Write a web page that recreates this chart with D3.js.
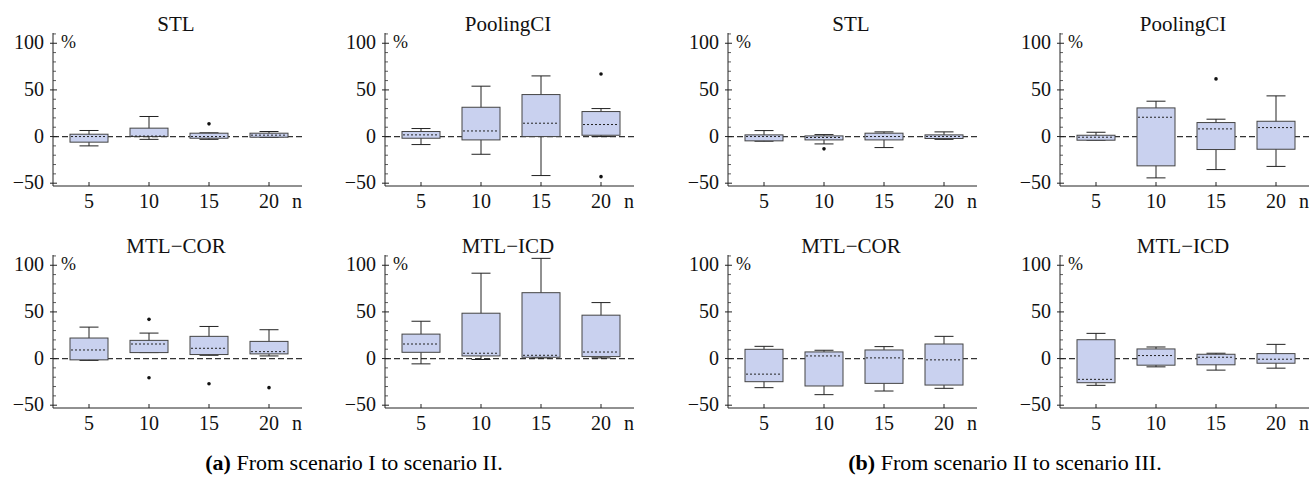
<!DOCTYPE html>
<html>
<head>
<meta charset="utf-8">
<script src="https://cdn.jsdelivr.net/npm/d3@7"></script>
<style>
  body { margin: 0; background: #fff; }
</style>
</head>
<body>
<svg id="chart" width="1311" height="480" font-family="'Liberation Serif', 'DejaVu Serif', serif"></svg>
<script>
// categories (n) and y ticks
var nValues = [5, 10, 15, 20];
var yMajor = [-50, 0, 50, 100];

// each entry: [lower whisker, q1, median, q3, upper whisker]
var stlA = [[-10, -6, 0, 2.5, 6.5], [-3, 0, 0.5, 9, 21.5], [-3, -1.8, 0, 3.6, 4], [-1, -0.7, 1.5, 3.6, 5.4]];
var stlAOut = [[], [], [13.6], []];
var poolA = [[-8.6, -1.8, 1.8, 5.4, 8.6], [-19, -3.6, 6, 31.4, 54], [-41.8, 0, 14.3, 45, 65], [0, 1.4, 12.9, 26.8, 30]];
var poolAOut = [[], [], [], [67, -43]];
var corA = [[-2, -1.4, 9.2, 22, 33.7], [6.4, 6.4, 15.6, 19.5, 27.3], [3.5, 4.3, 11, 23.8, 34.4], [2.8, 5, 7.4, 18.4, 30.9]];
var corAOut = [[], [42, -20.6], [-27], [-31.2]];
var icdA = [[-5.7, 6.7, 15.6, 26.2, 40], [-1, 2.8, 5.7, 48.6, 91.5], [0.7, 1.4, 3.5, 70.6, 107.4], [0.7, 2.1, 7, 46.5, 60]];
var icdAOut = [[], [], [], []];

var stlB = [[-5, -4.6, 0, 1.8, 6.4], [-7.9, -3.6, -1, 0.7, 2.1], [-11.8, -3.6, 0, 3.6, 5], [-3, -2.1, 0, 1.8, 5]];
var stlBOut = [[], [-13.2], [], []];
var poolB = [[-4, -3.9, -0.7, 1.4, 4.6], [-44.3, -31.4, 20.7, 30.7, 37.9], [-35.4, -13.9, 8.2, 15, 18.6], [-32, -13.6, 9.6, 16.4, 43.6]];
var poolBOut = [[], [], [61.8], []];
var corB = [[-31.2, -24.8, -16.7, 9.9, 13.1], [-38.7, -29.4, 2.8, 7.1, 8.9], [-34.8, -26.6, 0.7, 9.2, 12.8], [-31.9, -28.4, -1.4, 15.6, 23.8]];
var corBOut = [[], [], [], []];
var icdB = [[-28.7, -25.9, -22.3, 20.2, 27], [-8.9, -7.1, 3.2, 10.3, 12.4], [-12.4, -6.7, 1.4, 4.6, 5.7], [-10.3, -5, -0.7, 5.3, 15.2]];
var icdBOut = [[], [], [], []];

var panels = [
  { title: "STL", box: stlA, out: stlAOut, col: 0, row: 0 },
  { title: "PoolingCI", box: poolA, out: poolAOut, col: 1, row: 0 },
  { title: "MTL\u2212COR", box: corA, out: corAOut, col: 0, row: 1 },
  { title: "MTL\u2212ICD", box: icdA, out: icdAOut, col: 1, row: 1 },
  { title: "STL", box: stlB, out: stlBOut, col: 2, row: 0 },
  { title: "PoolingCI", box: poolB, out: poolBOut, col: 3, row: 0 },
  { title: "MTL\u2212COR", box: corB, out: corBOut, col: 2, row: 1 },
  { title: "MTL\u2212ICD", box: icdB, out: icdBOut, col: 3, row: 1 }
];

// layout
var colX = [53, 385, 728, 1060];
var rowTop = [33, 255];
var plotH = 153;
var boxW = 38, capW = 19;

var svg = d3.select("#chart");

function drawPanel(p) {
  var x0 = colX[p.col], top = rowTop[p.row], bottom = top + plotH;
  var xEnd = x0 + 249;
  var y = d3.scaleLinear().domain([-53, 111]).range([bottom, top]);
  var x = d3.scalePoint().domain(nValues).range([x0 + 36, x0 + 216]);
  var g = svg.append("g").attr("fill", "#111");

  // title
  g.append("text").attr("x", x0 + 123).attr("y", top - 2)
    .attr("text-anchor", "middle").attr("font-size", 21).text(p.title);

  // zero line (behind the boxes)
  g.append("line").attr("x1", x0).attr("x2", xEnd).attr("y1", y(0)).attr("y2", y(0))
    .attr("stroke", "#333").attr("stroke-width", 1.3).attr("stroke-dasharray", "6,3");

  // axes
  g.append("line").attr("x1", x0).attr("x2", x0).attr("y1", top).attr("y2", bottom)
    .attr("stroke", "#222");
  g.append("line").attr("x1", x0).attr("x2", xEnd).attr("y1", bottom).attr("y2", bottom)
    .attr("stroke", "#222");

  var minor = d3.range(-50, 111, 10).filter(function (v) { return yMajor.indexOf(v) < 0; });
  g.selectAll(".minor").data(minor).enter().append("line")
    .attr("x1", x0).attr("x2", x0 + 3).attr("y1", y).attr("y2", y)
    .attr("stroke", "#333").attr("stroke-width", 0.8);
  g.selectAll(".major").data(yMajor).enter().append("line")
    .attr("x1", x0 - 3).attr("x2", x0 + 4).attr("y1", y).attr("y2", y)
    .attr("stroke", "#222");
  g.selectAll(".ylab").data(yMajor).enter().append("text")
    .attr("x", x0 - 9).attr("y", function (d) { return y(d) + 6; })
    .attr("text-anchor", "end").attr("font-size", 20)
    .text(function (d) { return d < 0 ? "\u2212" + Math.abs(d) : d; });

  g.selectAll(".xtick").data(nValues).enter().append("line")
    .attr("x1", x).attr("x2", x).attr("y1", bottom).attr("y2", bottom - 4)
    .attr("stroke", "#222");
  g.selectAll(".xlab").data(nValues).enter().append("text")
    .attr("x", x).attr("y", bottom + 22)
    .attr("text-anchor", "middle").attr("font-size", 20).text(function (d) { return d; });
  g.append("text").attr("x", x0 + 244).attr("y", bottom + 22)
    .attr("text-anchor", "middle").attr("font-size", 20).text("n");
  g.append("text").attr("x", x0 + 8).attr("y", y(100) + 5)
    .attr("font-size", 18).text("%");

  // boxes
  var b = g.selectAll(".bw").data(p.box).enter().append("g");
  b.append("line")
    .attr("x1", function (d, i) { return x(nValues[i]); })
    .attr("x2", function (d, i) { return x(nValues[i]); })
    .attr("y1", function (d) { return y(d[0]); }).attr("y2", function (d) { return y(d[4]); })
    .attr("stroke", "#222");
  [0, 4].forEach(function (k) {
    b.append("line")
      .attr("x1", function (d, i) { return x(nValues[i]) - capW / 2; })
      .attr("x2", function (d, i) { return x(nValues[i]) + capW / 2; })
      .attr("y1", function (d) { return y(d[k]); }).attr("y2", function (d) { return y(d[k]); })
      .attr("stroke", "#222");
  });
  b.append("rect")
    .attr("x", function (d, i) { return x(nValues[i]) - boxW / 2; })
    .attr("y", function (d) { return y(d[3]); })
    .attr("width", boxW)
    .attr("height", function (d) { return Math.max(1, y(d[1]) - y(d[3])); })
    .attr("fill", "#c9d1ef").attr("stroke", "#444").attr("stroke-width", 1);
  b.append("line")
    .attr("x1", function (d, i) { return x(nValues[i]) - boxW / 2 + 1; })
    .attr("x2", function (d, i) { return x(nValues[i]) + boxW / 2 - 1; })
    .attr("y1", function (d) { return y(d[2]); }).attr("y2", function (d) { return y(d[2]); })
    .attr("stroke", "#222").attr("stroke-width", 1).attr("stroke-dasharray", "2,2");

  // outliers
  p.out.forEach(function (vals, i) {
    g.selectAll(null).data(vals).enter().append("circle")
      .attr("cx", x(nValues[i])).attr("cy", y).attr("r", 1.8).attr("fill", "#111");
  });
}

panels.forEach(drawPanel);

// captions
var capA = svg.append("text").attr("x", 354).attr("y", 470).attr("text-anchor", "middle").attr("font-size", 22);
capA.append("tspan").attr("font-weight", "bold").text("(a)");
capA.append("tspan").text(" From scenario I to scenario II.");
var capB = svg.append("text").attr("x", 1005).attr("y", 470).attr("text-anchor", "middle").attr("font-size", 22);
capB.append("tspan").attr("font-weight", "bold").text("(b)");
capB.append("tspan").text(" From scenario II to scenario III.");
</script>
</body>
</html>
